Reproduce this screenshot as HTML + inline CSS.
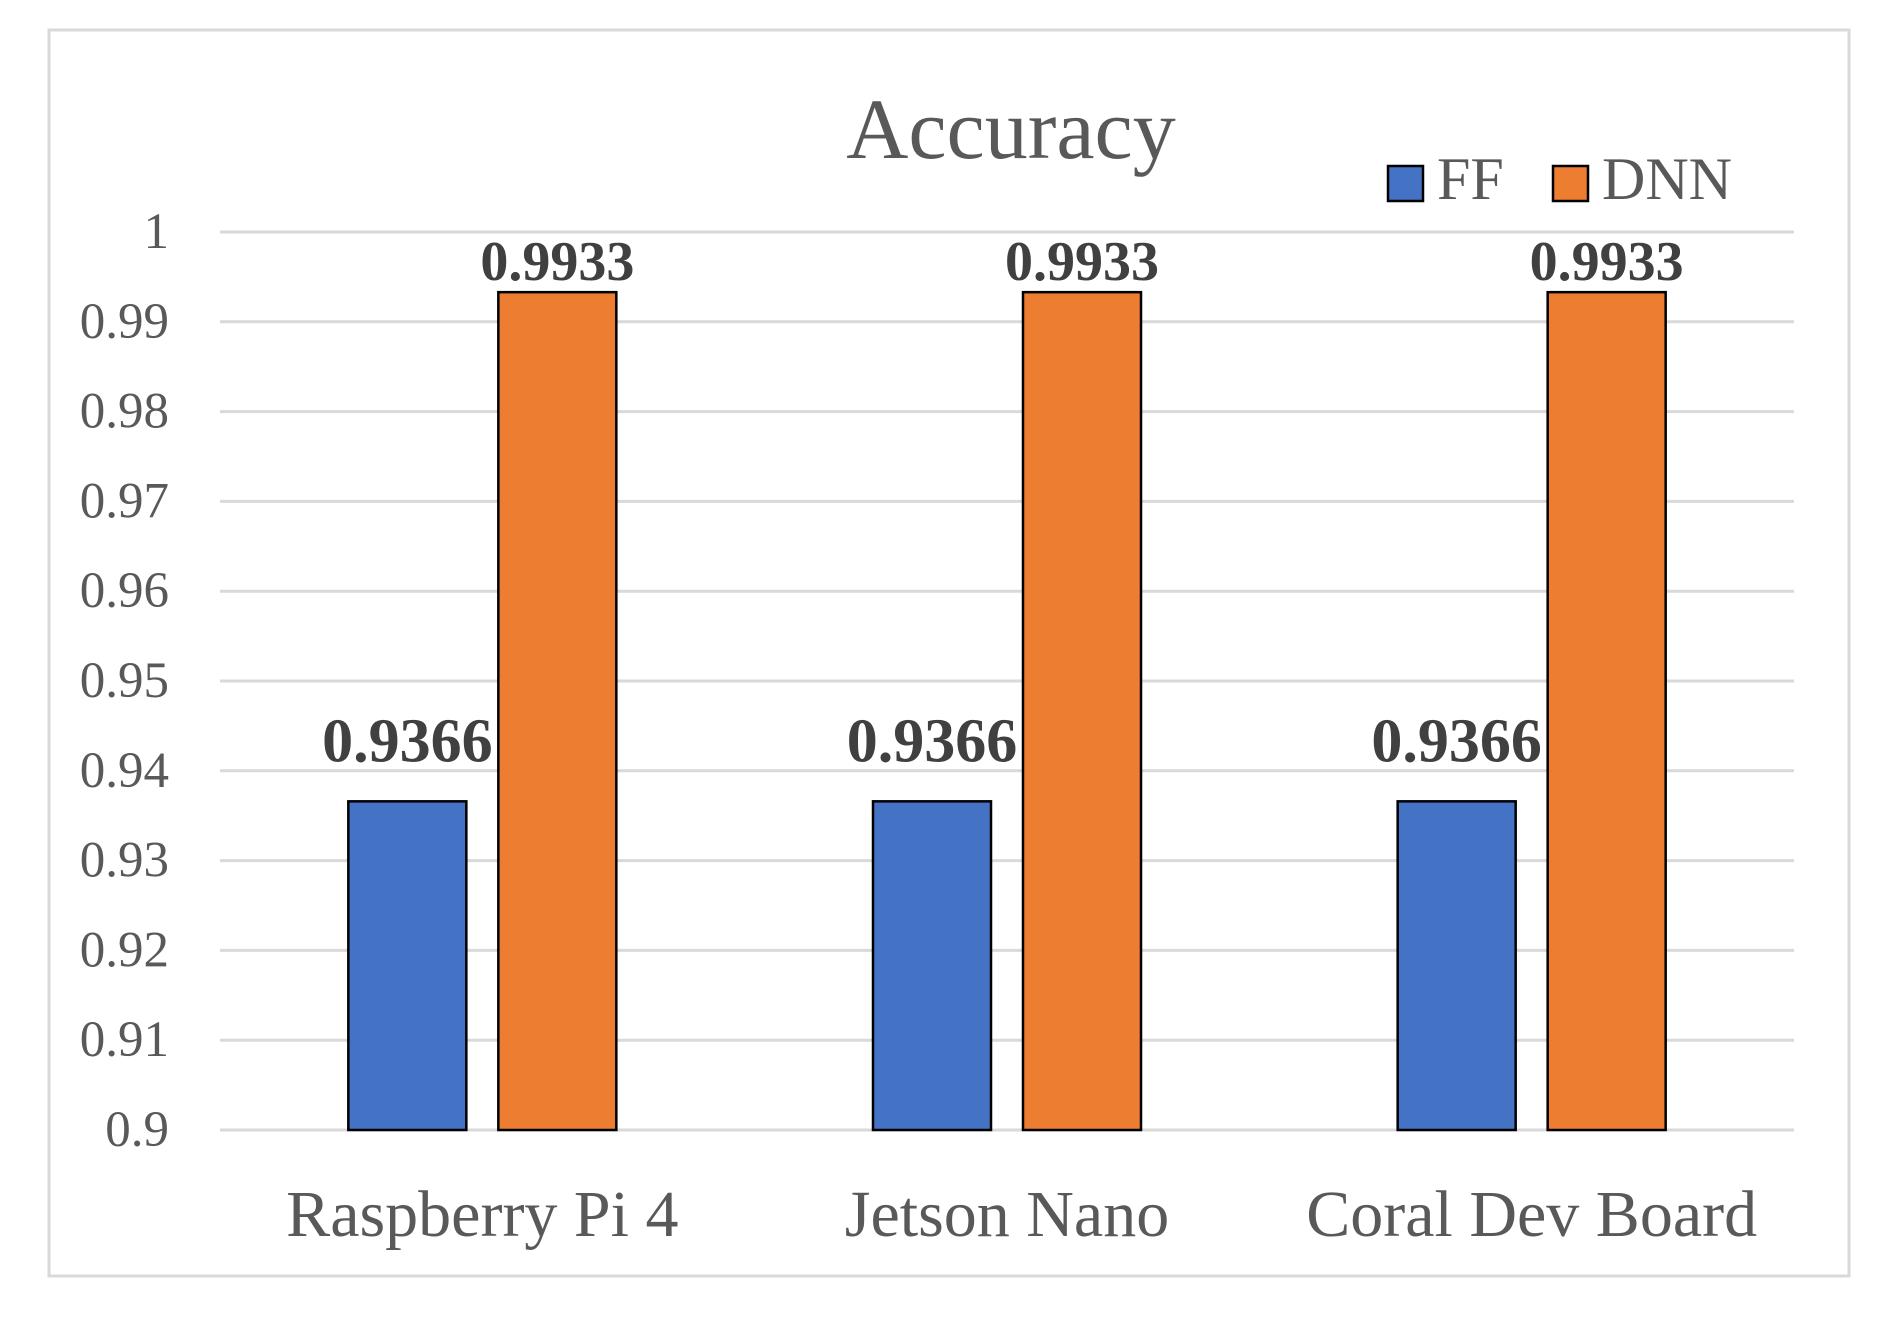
<!DOCTYPE html>
<html><head><meta charset="utf-8"><style>
html,body{margin:0;padding:0;background:#fff;}
svg{display:block;font-family:"Liberation Serif",serif;}
</style></head><body>
<svg id="chart" width="1888" height="1317" viewBox="0 0 1888 1317">
<rect x="49" y="30" width="1800" height="1246" fill="#fff" stroke="#d9d9d9" stroke-width="3"/>
<text x="1011" y="158" text-anchor="middle" font-size="86" fill="#595959">Accuracy</text>
<g>
<rect x="1388" y="166" width="35" height="35" fill="#4472C4" stroke="#000" stroke-width="2.5"/>
<text x="1437" y="199" font-size="60" fill="#595959">FF</text>
<rect x="1553" y="166" width="35" height="35" fill="#ED7D31" stroke="#000" stroke-width="2.5"/>
<text x="1602" y="199" font-size="60" fill="#595959">DNN</text>
</g>
<g id="grid"></g><g id="bars"></g><g id="labels"></g>
</svg>
<script>
const categories = ["Raspberry Pi 4", "Jetson Nano", "Coral Dev Board"];
const ffValues = [0.9366, 0.9366, 0.9366];
const dnnValues = [0.9933, 0.9933, 0.9933];
const yTicks = [0.9, 0.91, 0.92, 0.93, 0.94, 0.95, 0.96, 0.97, 0.98, 0.99, 1];
const yTickLabels = ["0.9","0.91","0.92","0.93","0.94","0.95","0.96","0.97","0.98","0.99","1"];

const NS = "http://www.w3.org/2000/svg";
const plotL = 220, plotR = 1794, plotT = 232, plotB = 1130;
const yMin = 0.9, yMax = 1.0;
function y(v){ return plotB - (v - yMin) / (yMax - yMin) * (plotB - plotT); }
const band = (plotR - plotL) / categories.length;
function xc(i){ return plotL + band * (i + 0.5); }
function mk(tag, attrs, parent){ const e = document.createElementNS(NS, tag); for (const k in attrs) e.setAttribute(k, attrs[k]); parent.appendChild(e); return e; }
const grid = document.getElementById("grid"), bars = document.getElementById("bars"), labels = document.getElementById("labels");

yTicks.forEach((t, i) => {
  const l = mk("line", {x1: plotL, x2: plotR, y1: y(t), y2: y(t), stroke: "#d9d9d9", "stroke-width": 3}, grid);
  
  
  const tx = mk("text", {x: 169, y: y(t) + 16, "text-anchor": "end", "font-size": 51, fill: "#595959"}, grid);
  tx.textContent = yTickLabels[i];
  
  
});

const bw = 118, gap = 16;
categories.forEach((c, i) => {
  const cx = xc(i);
  const series = [[ffValues[i], cx - gap - bw, "#4472C4", "ff", 62, 40], [dnnValues[i], cx + gap, "#ED7D31", "dnn", 56, 12]];
  series.forEach(([v, x0, col, nm, fs, off]) => {
    const r = mk("rect", {x: x0, y: y(v), width: bw, height: plotB - y(v), fill: col, stroke: "#000", "stroke-width": 2.5}, bars);
    
    
    const t = mk("text", {x: x0 + bw / 2, y: y(v) - off, "text-anchor": "middle", "font-size": fs, "font-weight": "bold", fill: "#404040"}, labels);
    t.textContent = v.toFixed(4);
    
    
  });
  const xl = mk("text", {x: cx, y: 1236, "text-anchor": "middle", "font-size": 66, fill: "#595959"}, labels);
  xl.textContent = c;
  
  
});
</script>
</body></html>
